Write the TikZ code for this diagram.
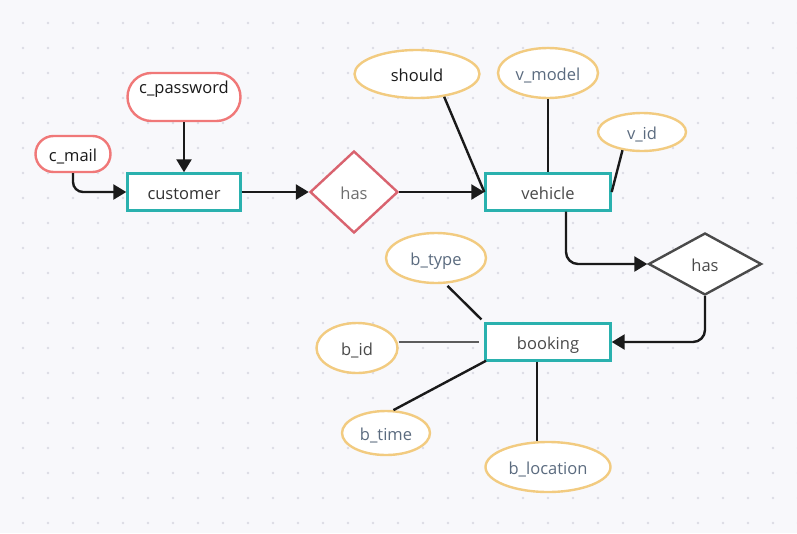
\documentclass[tikz,border=0pt]{standalone}
\usepackage{fontspec}
\setmainfont{Open Sans}
\usetikzlibrary{arrows.meta,shapes.geometric}
\definecolor{bgcol}{HTML}{F8F8FB}
\definecolor{dotcol}{HTML}{DCDCE4}
\definecolor{redcol}{HTML}{F07878}
\definecolor{tealcol}{HTML}{2AB1AE}
\definecolor{rosecol}{HTML}{D9636F}
\definecolor{graycol}{HTML}{4A4A4A}
\definecolor{goldcol}{HTML}{F2CB80}
\definecolor{inkcol}{HTML}{1A1A1A}
\definecolor{txtcol}{HTML}{333333}
\definecolor{attcol}{HTML}{5B6B7F}

\begin{document}
\begin{tikzpicture}[x=1pt,y=-1pt,
  every node/.style={font=\fontsize{16.5}{18}\selectfont,text height=16,text depth=2},
  entity/.style={draw=tealcol,line width=2.4pt,fill=white,rectangle,minimum height=37,text=txtcol},
  pill/.style={draw=redcol,line width=2.4pt,fill=white,rectangle,text=inkcol},
  rel/.style={draw=#1,line width=2.4pt,fill=white,diamond,inner sep=0pt,text=graycol},
  attr/.style={draw=goldcol,line width=2.4pt,fill=white,ellipse,inner sep=0pt,text=attcol},
  link/.style={draw=inkcol,line width=2.4pt},
  arr/.style={link,-{Triangle[length=13pt,width=15pt]}}]
\useasboundingbox (0,0) rectangle (797,533);
\fill[bgcol] (0,0) rectangle (797,533);
\foreach \i in {0,...,31}
  \foreach \j in {0,...,20}
    \fill[dotcol] (23+25*\i,23+25*\j) circle (1.3);

\node[pill,minimum width=113,minimum height=48,rounded corners=24,text height=12,text depth=20] (c_password) at (184,97) {c\_password};
\node[pill,minimum width=75,minimum height=36,rounded corners=18] (c_mail) at (73,154) {c\_mail};
\node[entity,minimum width=113] (customer) at (184,192) {customer};
\node[rel=rosecol,minimum width=88,minimum height=82,text=graycol!80] (has1) at (354,192) {has};
\node[entity,minimum width=125,text=graycol] (vehicle) at (548,192) {vehicle};
\node[attr,minimum width=125,minimum height=48,text=inkcol] (should) at (417,74) {should};
\node[attr,minimum width=100,minimum height=50] (v_model) at (548,73) {v\_model};
\node[attr,minimum width=88,minimum height=38] (v_id) at (642,132) {v\_id};
\node[rel=graycol,minimum width=113,minimum height=62] (has2) at (705,264) {has};
\node[entity,minimum width=125,text=graycol] (booking) at (548,342) {booking};
\node[attr,minimum width=100,minimum height=50] (b_type) at (436,258) {b\_type};
\node[attr,minimum width=81,minimum height=50,text=graycol] (b_id) at (357,348) {b\_id};
\node[attr,minimum width=88,minimum height=44] (b_time) at (386,433) {b\_time};
\node[attr,minimum width=125,minimum height=50] (b_location) at (548,467) {b\_location};

\draw[arr] (c_password.south) -- (customer.north);
\draw[arr,rounded corners=10] (c_mail.south) |- (customer.west);
\draw[arr] (customer.east) -- (has1.west);
\draw[arr] (has1.east) -- (vehicle.west);
\draw[link] (should.-40) -- (vehicle.west);
\draw[link] (v_model.south) -- (vehicle.north);
\draw[link] (v_id.-137) -- (vehicle.east);
\draw[arr,rounded corners=12] ([xshift=18]vehicle.south) |- (has2.west);
\draw[arr,rounded corners=12] (has2.south) |- (booking.east);
\draw[link,shorten <=3,shorten >=4] (b_type.-70) -- (booking.north west);
\draw[link,draw=graycol!90,shorten >=5] (b_id.east |- booking.west) -- (booking.west);
\draw[link,shorten >=-2] (b_time.72) -- (booking.south west);
\draw[link] ([xshift=-11]booking.south) -- ([xshift=-11]b_location.north);
\end{tikzpicture}
\end{document}
